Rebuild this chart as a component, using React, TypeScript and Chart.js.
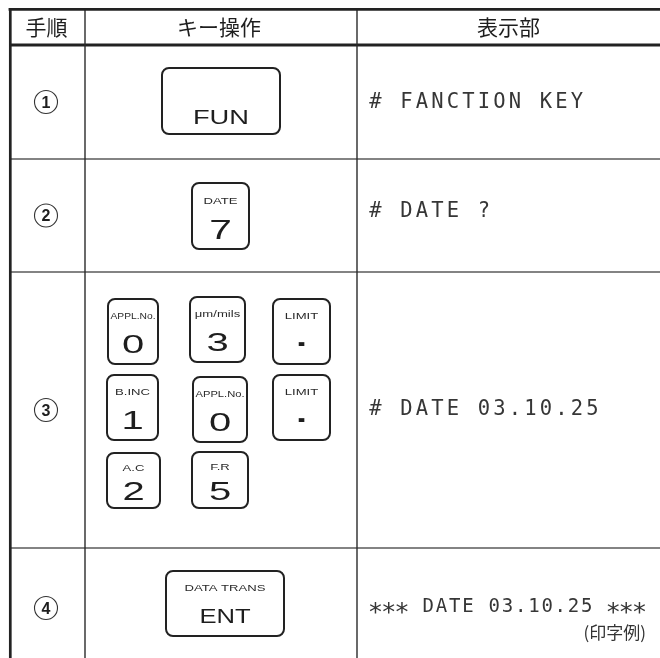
import React, { useEffect, useRef } from 'react';
import { Chart, registerables } from 'chart.js';

Chart.register(...registerables);

// ---- data ----
const headers = ['手順', 'キー操作', '表示部'];
const stepNumbers = ['1', '2', '3', '4'];
const keyTopLabels = [
  [''],
  ['DATE'],
  ['APPL.No.', 'μm/mils', 'LIMIT', 'B.INC', 'APPL.No.', 'LIMIT', 'A.C', 'F.R'],
  ['DATA TRANS'],
];
const keyMainLabels = [
  ['FUN'],
  ['7'],
  ['0', '3', '.', '1', '0', '.', '2', '5'],
  ['ENT'],
];
const displayLines = ['# FANCTION KEY', '# DATE ?', '# DATE 03.10.25', '*** DATE 03.10.25 ***'];
const printNote = '(印字例)';

// ---- layout (in scale units) ----
const COLS = [10, 85, 357, 660];
const ROWS = [9, 45, 159, 272, 548, 668];
const STEP_X = 46;
const KEY_RECTS: number[][][] = [
  [[162, 68, 280, 134]],
  [[192, 183, 249, 249]],
  [
    [108, 299, 158, 364], [190, 297, 245, 362], [273, 299, 330, 364],
    [107, 375, 158, 440], [193, 377, 247, 442], [273, 375, 330, 440],
    [107, 453, 160, 508], [192, 452, 248, 508],
  ],
  [[166, 571, 284, 636]],
];
const MAIN_FONT = [21, 28, 25, 21];
const MAIN_XSCALE = [1.3, 1.45, 1.6, 1.22];
const DISPLAY_X = 370;
const DISPLAY_DY = [-1, -6, -2, -3];
const DISPLAY_FONT = [20.5, 20.5, 20.5, 19];
const DISPLAY_ADV = [15.5, 15.5, 15.5, 13.2];

const rowCenter = (i: number) => (ROWS[i + 1] + ROWS[i + 2]) / 2;
const stepPoints = stepNumbers.map((_, i) => ({ x: STEP_X, y: rowCenter(i) }));

function rr(ctx: CanvasRenderingContext2D, x0: number, y0: number, x1: number, y1: number, r: number) {
  ctx.beginPath();
  ctx.moveTo(x0 + r, y0);
  ctx.lineTo(x1 - r, y0);
  ctx.arcTo(x1, y0, x1, y0 + r, r);
  ctx.lineTo(x1, y1 - r);
  ctx.arcTo(x1, y1, x1 - r, y1, r);
  ctx.lineTo(x0 + r, y1);
  ctx.arcTo(x0, y1, x0, y1 - r, r);
  ctx.lineTo(x0, y0 + r);
  ctx.arcTo(x0, y0, x0 + r, y0, r);
  ctx.closePath();
}

function seg(ctx: CanvasRenderingContext2D, x0: number, y0: number, x1: number, y1: number, w: number, c: string) {
  ctx.beginPath();
  ctx.moveTo(x0, y0);
  ctx.lineTo(x1, y1);
  ctx.lineWidth = w;
  ctx.strokeStyle = c;
  ctx.stroke();
}

const tablePlugin = {
  id: 'tableDraw',
  beforeDatasetsDraw(chart: any) {
    const ctx: CanvasRenderingContext2D = chart.ctx;
    const X = (v: number) => chart.scales.x.getPixelForValue(v);
    const Y = (v: number) => chart.scales.y.getPixelForValue(v);
    ctx.save();
    ctx.lineCap = 'butt';
    // row separators
    for (let i = 2; i < ROWS.length - 1; i++) {
      seg(ctx, X(COLS[0]), Y(ROWS[i]), X(COLS[3]), Y(ROWS[i]), 1.6, '#5a5a5a');
    }
    // header bottom
    seg(ctx, X(COLS[0]), Y(ROWS[1]), X(COLS[3]), Y(ROWS[1]), 3, '#222');
    // column lines
    seg(ctx, X(COLS[1]), Y(ROWS[0]), X(COLS[1]), Y(658), 1.4, '#2a2a2a');
    seg(ctx, X(COLS[2]), Y(ROWS[0]), X(COLS[2]), Y(658), 1.4, '#2a2a2a');
    // outer borders
    seg(ctx, X(COLS[0]) - 1.4, Y(ROWS[0]) + 0.3, X(COLS[3]), Y(ROWS[0]) + 0.3, 2.7, '#222');
    seg(ctx, X(COLS[0]) + 0.3, Y(ROWS[0]) - 1, X(COLS[0]) + 0.3, Y(658), 2.7, '#222');

    // header text
    ctx.fillStyle = '#1e1e1e';
    ctx.font = '21px "Noto Sans CJK JP"';
    ctx.textAlign = 'center';
    ctx.textBaseline = 'middle';
    headers.forEach((h, i) => {
      ctx.fillText(h, X((COLS[i] + COLS[i + 1]) / 2 + (i === 0 ? -1 : i === 1 ? -2 : 0)), Y((ROWS[0] + ROWS[1]) / 2 + 0.5));
    });

    // keys
    KEY_RECTS.forEach((rects, r) => {
      rects.forEach((k, j) => {
        const x0 = X(k[0]), y0 = Y(k[1]), x1 = X(k[2]), y1 = Y(k[3]);
        rr(ctx, x0, y0, x1, y1, 7);
        ctx.lineWidth = 2;
        ctx.strokeStyle = '#222';
        ctx.stroke();
        const cx = (x0 + x1) / 2;
        const h = y1 - y0;
        const top = keyTopLabels[r][j];
        const main = keyMainLabels[r][j];
        if (top) {
          const fs = 9.5;
          const sc = 1.38;
          ctx.save();
          ctx.translate(cx, y0 + 0.26 * h + 0.36 * fs);
          ctx.scale(sc, 1);
          ctx.font = `${fs}px "Liberation Sans", Arial, sans-serif`;
          ctx.textAlign = 'center';
          ctx.textBaseline = 'alphabetic';
          ctx.fillStyle = '#2a2a2a';
          ctx.fillText(top, 0, 0, (x1 - x0 - 5) / sc);
          ctx.restore();
        }
        const fs = MAIN_FONT[r];
        const sc = MAIN_XSCALE[r];
        const cy = y0 + (top ? 0.69 : 0.74) * h;
        ctx.save();
        const isDot = main === '.';
        ctx.translate(cx, isDot ? cy + 2 : cy + 0.358 * fs);
        ctx.scale(sc, 1);
        ctx.font = `${isDot ? 'bold ' : ''}${fs}px "Liberation Sans", Arial, sans-serif`;
        ctx.textAlign = 'center';
        ctx.textBaseline = 'alphabetic';
        ctx.fillStyle = '#1e1e1e';
        ctx.fillText(main, 0, 0);
        ctx.restore();
      });
    });

    // display texts
    ctx.fillStyle = '#363636';
    ctx.textAlign = 'center';
    ctx.textBaseline = 'alphabetic';
    displayLines.forEach((line, i) => {
      const fs = DISPLAY_FONT[i];
      const adv = DISPLAY_ADV[i];
      const cy = Y(rowCenter(i) + DISPLAY_DY[i]);
      const base = cy + 0.365 * fs;
      for (let c = 0; c < line.length; c++) {
        const ch = line[c];
        if (ch === ' ') continue;
        const x = X(DISPLAY_X) + adv * c + 5.5;
        if (ch === '*') {
          const f2 = fs * 1.35;
          ctx.font = `${f2}px "DejaVu Sans Mono", "Liberation Mono", monospace`;
          ctx.fillText(ch, x, cy + 0.58 * f2);
        } else {
          ctx.font = `${fs}px "DejaVu Sans Mono", "Liberation Mono", monospace`;
          ctx.fillText(ch, x, base);
        }
      }
    });
    // print note
    ctx.font = '17px "Noto Sans CJK JP"';
    ctx.textAlign = 'right';
    ctx.textBaseline = 'middle';
    ctx.fillStyle = '#333';
    ctx.fillText(printNote, X(646), Y(rowCenter(3) + 25));
    ctx.restore();
  },
  afterDatasetsDraw(chart: any) {
    const ctx: CanvasRenderingContext2D = chart.ctx;
    const meta = chart.getDatasetMeta(0);
    ctx.save();
    ctx.fillStyle = '#1e1e1e';
    ctx.font = 'bold 16px "Liberation Sans", Arial, sans-serif';
    ctx.textAlign = 'center';
    ctx.textBaseline = 'alphabetic';
    meta.data.forEach((pt: any, i: number) => {
      ctx.fillText(stepNumbers[i], pt.x, pt.y + 0.36 * 16);
    });
    ctx.restore();
  },
};

export default function App() {
  const ref = useRef<HTMLCanvasElement>(null);
  useEffect(() => {
    const chart = new Chart(ref.current as HTMLCanvasElement, {
      type: 'scatter',
      data: {
        datasets: [
          {
            data: stepPoints,
            pointRadius: 11.5,
            pointHoverRadius: 11.5,
            pointBorderWidth: 1.1,
            pointBorderColor: '#333',
            pointBackgroundColor: '#fff',
            clip: false,
          } as any,
        ],
      },
      options: {
        responsive: false,
        animation: false,
        devicePixelRatio: 1,
        events: [],
        layout: { padding: 0, autoPadding: false },
        scales: {
          x: { type: 'linear', min: 0, max: 660, display: false },
          y: { type: 'linear', min: 0, max: 658, reverse: true, display: false },
        },
        plugins: { legend: { display: false }, tooltip: { enabled: false } },
      },
      plugins: [tablePlugin],
    });
    return () => chart.destroy();
  }, []);
  return (
    <div style={{ position: 'absolute', left: 0, top: 0, width: 660, height: 658, background: '#fff' }}>
      <canvas ref={ref} width={660} height={658} style={{ display: 'block' }} />
    </div>
  );
}
